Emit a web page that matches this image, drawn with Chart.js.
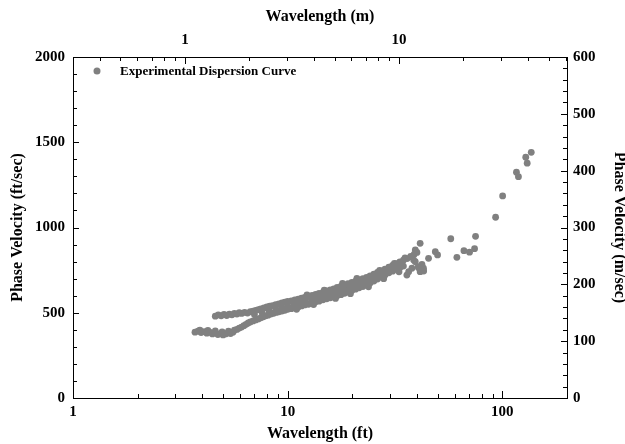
<!DOCTYPE html>
<html>
<head>
<meta charset="utf-8">
<script src="https://cdn.jsdelivr.net/npm/chart.js@4"></script>
<style>
body{margin:0;background:#fff}
#wrap{width:625px;height:444px}
</style>
</head>
<body>
<div id="wrap"><canvas id="chart" width="625" height="444"></canvas></div>
<script>

// wavelength (ft) and phase velocity (ft/sec)
const wavelengthFt=[
3.7,3.82,3.95,4.08,4.2,4.33,4.46,4.6,4.73,4.86,5.0,5.14,5.28,5.42,5.56,
3.9,4.25,4.6,4.95,5.3,5.65,
5.8,5.95,6.1,6.25,6.4,6.55,6.7,6.9,7.1,7.3,7.5,7.7,7.9,8.1,8.35,8.6,8.85,9.1,9.4,9.7,
10.0,10.4,10.8,11.2,11.6,12.0,12.5,13.0,13.5,14.0,14.6,15.2,15.8,16.4,17.0,17.7,18.4,19.1,19.9,
20.7,21.5,22.4,23.3,24.2,25.2,26.2,27.3,28.4,29.6,30.8,32.0,33.3,34.6,
4.6,4.75,4.9,5.05,5.2,5.35,5.5,5.65,5.8,5.95,6.1,6.3,6.5,6.7,6.9,7.1,7.3,7.5,7.75,8.0,8.25,8.5,8.8,9.1,9.4,9.7,
10.0,10.4,10.8,11.2,11.6,12.0,12.5,13.0,13.5,14.0,14.6,15.2,15.8,16.4,17.0,17.7,18.4,19.1,19.9,
20.7,21.5,22.4,23.3,24.2,25.2,26.2,27.3,28.4,29.6,30.8,32.0,33.3,34.6,36.0,37.4,38.8,40.0,
7.0,7.6,8.2,8.8,9.4,10.0,10.7,11.4,12.1,12.9,13.7,14.5,15.4,16.3,17.3,18.3,19.4,20.5,21.7,23.0,24.3,25.7,27.2,28.8,30.4,32.2,34.0,
12.3,14.8,18.0,21.0,26.8,31.4,35.2,11.0,13.2,16.7,19.6,23.8,28.0,33.0,
35.9,36.6,37.9,38.6,39.3,39.3,40.6,40.7,41.4,41.4,42.2,42.9,43.0,45.3,48.7,49.9,
57.5,61.4,66.2,70.3,74.2,75.0,93.0,100.3,116.3,118.8,128.5,130.5,136.3
]
const phaseVelocityFt=[
386,392,384,389,380,386,376,382,372,378,370,376,382,378,386,
398,396,394,388,392,398,
402,410,416,424,432,440,446,452,458,464,470,476,482,486,492,497,502,506,510,514,
520,524,530,534,540,546,550,558,564,568,576,582,588,594,600,606,614,622,630,
638,646,654,664,674,686,698,710,722,734,744,754,764,774,
480,488,482,490,484,492,488,496,492,500,496,502,498,506,510,514,518,522,528,534,538,542,548,552,558,562,
566,570,576,580,586,590,596,602,608,614,620,628,634,640,648,654,662,670,678,
684,692,700,708,716,726,736,746,756,768,778,788,798,808,818,830,842,854,
490,500,512,522,532,542,552,560,568,578,588,598,606,616,626,636,646,656,668,682,694,706,720,736,750,764,782,
604,632,672,702,748,790,822,520,548,584,612,652,700,740,
721,741,761,809,868,799,770,764,741,907,784,761,745,819,858,839,
934,825,864,855,876,948,1060,1185,1324,1298,1412,1377,1441
]

const ftTickLabels=[1,10,100]
const mTickLabels=[1,10]
const leftTickLabels=[0,500,1000,1500,2000]
const rightTickLabels=[0,100,200,300,400,500,600]

const seriesName="Experimental Dispersion Curve"

const FT_PER_M=3.2808
const serif='"Liberation Serif","Times New Roman",serif'

let points=wavelengthFt.map((w,i)=>({x:w,y:phaseVelocityFt[i]}))

function isDecade(v){
let l=Math.log10(v)
return Math.abs(l-Math.round(l))<1e-6
}

// frame, inward ticks and the legend inside the plot
const extras={
id:"extras",
afterDraw(c){
let ctx=c.ctx
let a=c.chartArea
let s=c.scales
ctx.save()
ctx.strokeStyle="#000"
ctx.lineWidth=1
ctx.strokeRect(Math.round(a.left)+0.5,Math.round(a.top)+0.5,Math.round(a.right-a.left),Math.round(a.bottom-a.top))

ctx.beginPath()
for(let d=1;d<=100;d*=10){
for(let m=1;m<10;m++){
let v=d*m
if(v>200) break
let px=Math.round(s.x.getPixelForValue(v))+0.5
let len=m==1?7:4
ctx.moveTo(px,a.bottom);ctx.lineTo(px,a.bottom-len)
}
}
for(let d=0.1;d<=10;d*=10){
for(let m=1;m<10;m++){
let v=d*m
if(v<0.3048||v>60.96) continue
let px=Math.round(s.x2.getPixelForValue(v))+0.5
let len=m==1?7:4
ctx.moveTo(px,a.top);ctx.lineTo(px,a.top+len)
}
}
for(let v=0;v<=2000;v+=100){
let py=Math.round(s.y.getPixelForValue(v))+0.5
let len=v%500==0?6:4
ctx.moveTo(a.left,py);ctx.lineTo(a.left+len,py)
}
for(let v=0;v<=600;v+=20){
let py=Math.round(s.y2.getPixelForValue(v))+0.5
let len=v%100==0?6:4
ctx.moveTo(a.right,py);ctx.lineTo(a.right-len,py)
}
ctx.stroke()

ctx.fillStyle="#808080"
ctx.beginPath()
ctx.arc(97,71,3.5,0,Math.PI*2)
ctx.fill()
ctx.fillStyle="#000"
ctx.font="bold 13px "+serif
ctx.textBaseline="middle"
ctx.fillText(seriesName,120,72)
ctx.restore()
}
}

let tickFont={family:serif,size:15,weight:"bold"}
let titleFont={family:serif,size:16,weight:"bold"}

new Chart(document.getElementById("chart"),{
type:"scatter",
data:{
datasets:[{
label:seriesName,
data:points,
xAxisID:"x",
yAxisID:"y",
backgroundColor:"#808080",
borderWidth:0,
pointRadius:3.4,
pointHoverRadius:3.4
}]
},
options:{
responsive:false,
animation:false,
layout:{padding:0},
plugins:{legend:{display:false},tooltip:{enabled:false}},
scales:{
x:{
type:"logarithmic",
position:"bottom",
min:1,max:200,
afterFit(sc){sc.height=46},
grid:{display:false,drawTicks:false},
border:{display:false},
ticks:{
autoSkip:false,maxRotation:0,padding:5,color:"#000",font:tickFont,
callback:v=>ftTickLabels.includes(v)?String(v):""
},
title:{display:true,text:"Wavelength (ft)",color:"#000",font:titleFont,padding:{top:0,bottom:1}}
},
x2:{
type:"logarithmic",
position:"top",
min:1/FT_PER_M,max:200/FT_PER_M,
afterFit(sc){sc.height=57},
grid:{display:false,drawTicks:false},
border:{display:false},
ticks:{
autoSkip:false,maxRotation:0,padding:8,color:"#000",font:tickFont,
callback:v=>(isDecade(v)&&mTickLabels.includes(Math.round(v)))?String(Math.round(v)):""
},
title:{display:true,text:"Wavelength (m)",color:"#000",font:titleFont,padding:{top:7,bottom:0}}
},
y:{
position:"left",
min:0,max:2000,
afterFit(sc){sc.width=73},
grid:{display:false,drawTicks:false},
border:{display:false},
ticks:{
stepSize:500,padding:8,color:"#000",font:tickFont,
callback:v=>leftTickLabels.includes(v)?String(v):""
},
title:{display:true,text:"Phase Velocity (ft/sec)",color:"#000",font:titleFont,padding:{top:8,bottom:0}}
},
y2:{
position:"right",
min:0,max:600,
afterFit(sc){sc.width=58},
grid:{display:false,drawTicks:false},
border:{display:false},
ticks:{
stepSize:100,padding:6,color:"#000",font:tickFont,
callback:v=>rightTickLabels.includes(v)?String(v):""
},
title:{display:true,text:"Phase Velocity (m/sec)",color:"#000",font:titleFont,padding:{top:-4,bottom:0}}
}
}
},
plugins:[extras]
})

</script>
</body>
</html>
